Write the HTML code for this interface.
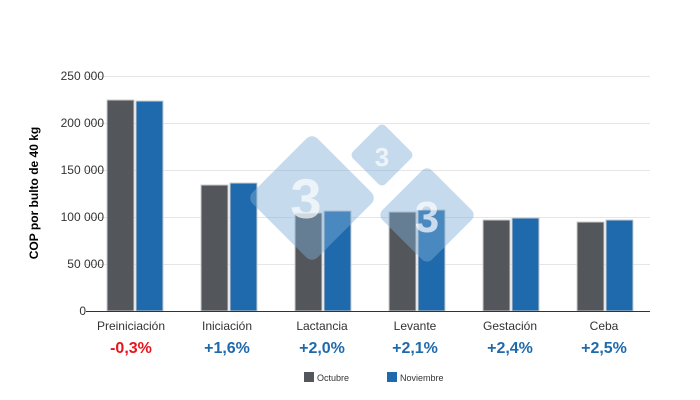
<!DOCTYPE html>
<html><head><meta charset="utf-8"><style>body{margin:0;background:#fff}svg{display:block}</style></head><body>
<svg width="700" height="400" xmlns="http://www.w3.org/2000/svg" font-family="Liberation Sans, Arial, sans-serif">
<rect width="700" height="400" fill="#fff"/>
<g stroke="#e6e6e6" stroke-width="1">
<line x1="86" x2="650" y1="76.5" y2="76.5"/><line x1="86" x2="650" y1="123.5" y2="123.5"/>
<line x1="86" x2="650" y1="170.5" y2="170.5"/><line x1="86" x2="650" y1="217.5" y2="217.5"/>
<line x1="86" x2="650" y1="264.5" y2="264.5"/>
</g>
<g font-size="12" fill="#333" text-anchor="end">
<text x="104" y="80">250 000</text><text x="104" y="127">200 000</text><text x="104" y="174">150 000</text>
<text x="104" y="221">100 000</text><text x="104" y="268">50 000</text><text x="86" y="315">0</text>
</g>
<text transform="translate(38,193) rotate(-90)" font-size="12" font-weight="bold" text-anchor="middle" fill="#000">COP por bulto de 40 kg</text>
<g stroke="#ccc" stroke-width="1">
<rect x="107" y="100" width="27" height="211" fill="#53565a"/><rect x="136" y="101" width="27" height="210" fill="#1f6aad"/>
<rect x="201" y="185" width="27" height="126" fill="#53565a"/><rect x="230" y="183" width="27" height="128" fill="#1f6aad"/>
<rect x="295" y="213" width="27" height="98" fill="#53565a"/><rect x="324" y="211" width="27" height="100" fill="#1f6aad"/>
<rect x="389" y="212" width="27" height="99" fill="#53565a"/><rect x="418" y="210" width="27" height="101" fill="#1f6aad"/>
<rect x="483" y="220" width="27" height="91" fill="#53565a"/><rect x="512" y="218" width="27" height="93" fill="#1f6aad"/>
<rect x="577" y="222" width="27" height="89" fill="#53565a"/><rect x="606" y="220" width="27" height="91" fill="#1f6aad"/>
</g>
<line x1="86" x2="650" y1="311.5" y2="311.5" stroke="#333"/>
<g opacity="0.45">
<rect x="266" y="152" width="92" height="92" rx="8" fill="#7fb0d8" transform="rotate(45 312 198)"/>
<rect x="359" y="132" width="46" height="46" rx="5" fill="#7fb0d8" transform="rotate(45 382 155)"/>
<rect x="392" y="180" width="70" height="70" rx="7" fill="#7fb0d8" transform="rotate(45 427 215)"/>
</g>
<g fill="#fff" font-weight="bold" text-anchor="middle" opacity="0.7">
<text x="306" y="218" font-size="56">3</text><text x="382" y="166" font-size="26">3</text><text x="427" y="232" font-size="44">3</text>
</g>
<g font-size="12" fill="#333" text-anchor="middle">
<text x="131" y="330">Preiniciación</text><text x="227" y="330">Iniciación</text><text x="322" y="330">Lactancia</text>
<text x="415" y="330">Levante</text><text x="510" y="330">Gestación</text><text x="604" y="330">Ceba</text>
</g>
<g font-size="16" font-weight="bold" text-anchor="middle" fill="#1f6aad">
<text x="131" y="353" fill="#e8141b">-0,3%</text><text x="227" y="353">+1,6%</text><text x="322" y="353">+2,0%</text>
<text x="415" y="353">+2,1%</text><text x="510" y="353">+2,4%</text><text x="604" y="353">+2,5%</text>
</g>
<rect x="304" y="372" width="10" height="10" fill="#53565a"/>
<text x="317" y="381" font-size="9" fill="#333">Octubre</text>
<rect x="387" y="372" width="10" height="10" fill="#1f6aad"/>
<text x="400" y="381" font-size="9" fill="#333">Noviembre</text>
</svg>
</body></html>
